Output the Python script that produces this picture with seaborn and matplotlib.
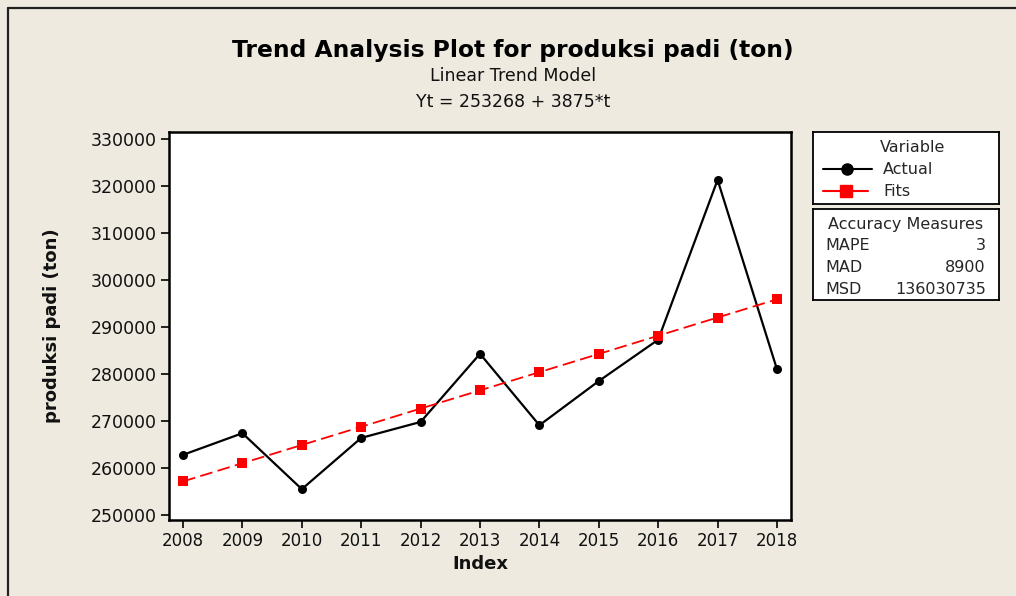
import numpy as np
import pandas as pd
import seaborn as sns
import matplotlib
matplotlib.use("Agg")
import matplotlib.pyplot as plt
from matplotlib.lines import Line2D

years = [2008, 2009, 2010, 2011, 2012, 2013, 2014, 2015, 2016, 2017, 2018]
actual = [262800, 267400, 255500, 266400, 269800, 284300, 269100, 278500, 287300, 321300, 281000]
fits = [257143, 261018, 264893, 268768, 272643, 276518, 280393, 284268, 288143, 292018, 295893]
y_ticks = [250000, 260000, 270000, 280000, 290000, 300000, 310000, 320000, 330000]
acc_labels = ["MAPE", "MAD", "MSD"]
acc_values = ["3", "8900", "136030735"]

sns.set_theme(style="white")
plt.rcParams['font.family'] = ['DejaVu Sans']

BG = "#EEEAE0"
W, H = 1016, 596
fig = plt.figure(figsize=(W / 100, H / 100), dpi=100, facecolor=BG)

def fx(px):
    return px / W

def fy(py):
    return 1 - py / H

ax = fig.add_axes([fx(169), fy(520), fx(791) - fx(169), fy(132) - fy(520)])
ax.set_facecolor("white")

df = pd.DataFrame({"Index": years * 2,
                   "value": actual + fits,
                   "Variable": ["Actual"] * len(years) + ["Fits"] * len(years)})

sns.lineplot(data=df[df.Variable == "Actual"], x="Index", y="value", ax=ax,
             color="black", marker="o", markersize=6.5, markeredgewidth=0,
             linewidth=1.6, legend=False)
sns.lineplot(data=df[df.Variable == "Fits"], x="Index", y="value", ax=ax,
             color="red", marker="s", markersize=7, markeredgewidth=0,
             linewidth=1.3, linestyle=(0, (7, 3)), legend=False)

ax.set_xlim(2007.764, 2018.236)
ax.set_ylim(248936, 331489)
ax.set_xticks(years)
ax.set_xticklabels([str(y) for y in years], fontsize=12)
ax.set_yticks(y_ticks)
ax.set_yticklabels([str(v) for v in y_ticks], fontsize=12.5)
ax.tick_params(axis="both", direction="out", length=6, width=1.2, color="black",
               bottom=True, left=True, pad=3, labelcolor="#111111")
for s in ax.spines.values():
    s.set_color("black")
    s.set_linewidth(1.8)
ax.set_xlabel("Index", fontsize=13, fontweight="bold", labelpad=3, color="#111111")
ax.set_ylabel("produksi padi (ton)", fontsize=13, fontweight="bold", labelpad=21, color="#111111")

fig.text(fx(513), fy(50), "Trend Analysis Plot for produksi padi (ton)", ha="center", va="center",
         fontsize=16.8, fontweight="bold", color="black")
fig.text(fx(513), fy(76), "Linear Trend Model", ha="center", va="center", fontsize=12.5, color="#111111")
fig.text(fx(513), fy(102), "Yt = 253268 + 3875*t", ha="center", va="center", fontsize=12.5, color="#111111")

# Legend box
lax = fig.add_axes([fx(813), fy(204), fx(999) - fx(813), fy(132) - fy(204)])
lax.set_xlim(0, 186); lax.set_ylim(72, 0)
lax.set_facecolor("white")
lax.set_xticks([]); lax.set_yticks([])
for s in lax.spines.values():
    s.set_color("black"); s.set_linewidth(1.3)
lax.text(100, 16, "Variable", ha="center", va="center", fontsize=11.5)
lax.plot([10, 59], [37, 37], color="black", lw=1.5)
lax.plot([34], [37], marker="o", color="black", ms=8)
lax.text(70, 37, "Actual", ha="left", va="center", fontsize=11.5)
lax.plot([10, 55], [59, 59], color="red", lw=1.5)
lax.plot([33], [59], marker="s", color="red", ms=8)
lax.text(70, 59, "Fits", ha="left", va="center", fontsize=11.5)

# Accuracy box
aax = fig.add_axes([fx(813), fy(300), fx(999) - fx(813), fy(209) - fy(300)])
aax.set_xlim(0, 186); aax.set_ylim(91, 0)
aax.set_facecolor("white")
aax.set_xticks([]); aax.set_yticks([])
for s in aax.spines.values():
    s.set_color("black"); s.set_linewidth(1.3)
aax.text(93, 16, "Accuracy Measures", ha="center", va="center", fontsize=11.5)
for i, (lab, val) in enumerate(zip(acc_labels, acc_values)):
    yy = 37 + i * 21.5
    aax.text(12, yy, lab, ha="left", va="center", fontsize=11.5)
    aax.text(173, yy, val, ha="right", va="center", fontsize=11.5)

# Figure frame lines
fig.add_artist(Line2D([fx(8), 1], [fy(8), fy(8)], color="#222222", lw=1.6))
fig.add_artist(Line2D([fx(8), fx(8)], [fy(8), 0], color="#222222", lw=1.6))

fig.savefig("out.png", dpi=100, facecolor=BG)
